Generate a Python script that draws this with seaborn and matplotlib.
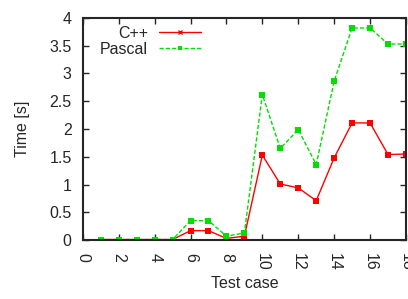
import pandas as pd
import matplotlib
matplotlib.use("Agg")
import matplotlib.pyplot as plt
import seaborn as sns
from matplotlib.lines import Line2D

# Data
test_cases = list(range(1, 19))
cpp_times = [0.01, 0.01, 0.01, 0.01, 0.01, 0.17, 0.17, 0.03, 0.07, 1.53,
             1.01, 0.94, 0.71, 1.48, 2.11, 2.11, 1.54, 1.55]
pascal_times = [0.01, 0.01, 0.01, 0.01, 0.01, 0.35, 0.35, 0.07, 0.13, 2.62,
                1.65, 1.99, 1.36, 2.86, 3.82, 3.82, 3.53, 3.53]
x_ticks = list(range(0, 19, 2))
y_ticks = [0, 0.5, 1, 1.5, 2, 2.5, 3, 3.5, 4]

df = pd.DataFrame({
    'case': test_cases * 2,
    'time': cpp_times + pascal_times,
    'lang': ['C++'] * len(test_cases) + ['Pascal'] * len(test_cases),
})

sns.set_style("ticks")
plt.rcParams['font.family'] = ['Liberation Sans', 'DejaVu Sans']

fig = plt.figure(figsize=(4.08, 2.99), dpi=100)
ax = fig.add_axes([0.203, 0.197, 0.792, 0.743])

palette = {'C++': '#ff0000', 'Pascal': '#00e000'}
sns.lineplot(data=df, x='case', y='time', hue='lang', style='lang',
             palette=palette, dashes={'C++': '', 'Pascal': (3, 1.5)},
             markers={'C++': 's', 'Pascal': 's'}, linewidth=1,
             markersize=4, markeredgewidth=0, ax=ax, legend=False)

# gnuplot-style legend: text right aligned, sample on the right
handles = [Line2D([], [], color='#ff0000', lw=1, marker='x', markersize=3),
           Line2D([], [], color='#00e000', lw=1, ls=(0, (3, 1.5)), marker='s',
                  markersize=3, markeredgewidth=0)]
ax.legend(handles, ['C++', 'Pascal'], loc='upper left', frameon=False,
          markerfirst=False, fontsize=11.5, handlelength=2.6,
          borderaxespad=0.1, labelspacing=0.05, handletextpad=0.7,
          bbox_to_anchor=(0.028, 1.0))

ax.set_xlim(0, 18)
ax.set_ylim(0, 4)
ax.set_xticks(x_ticks)
ax.set_yticks(y_ticks)
ax.set_yticklabels(['0', '0.5', '1', '1.5', '2', '2.5', '3', '3.5', '4'])
ax.tick_params(direction='in', length=4, width=1, top=True, right=True,
               labelsize=11.5)
ax.tick_params(axis='y', pad=8)
ax.tick_params(axis='x', labelrotation=-90, pad=9)
for sp in ax.spines.values():
    sp.set_linewidth(1.5)
    sp.set_visible(True)

ax.set_xlabel('Test case', fontsize=11.5, labelpad=4)
ax.set_ylabel('Time [s]', fontsize=11.5, labelpad=14)

fig.savefig('out.png', dpi=100)
